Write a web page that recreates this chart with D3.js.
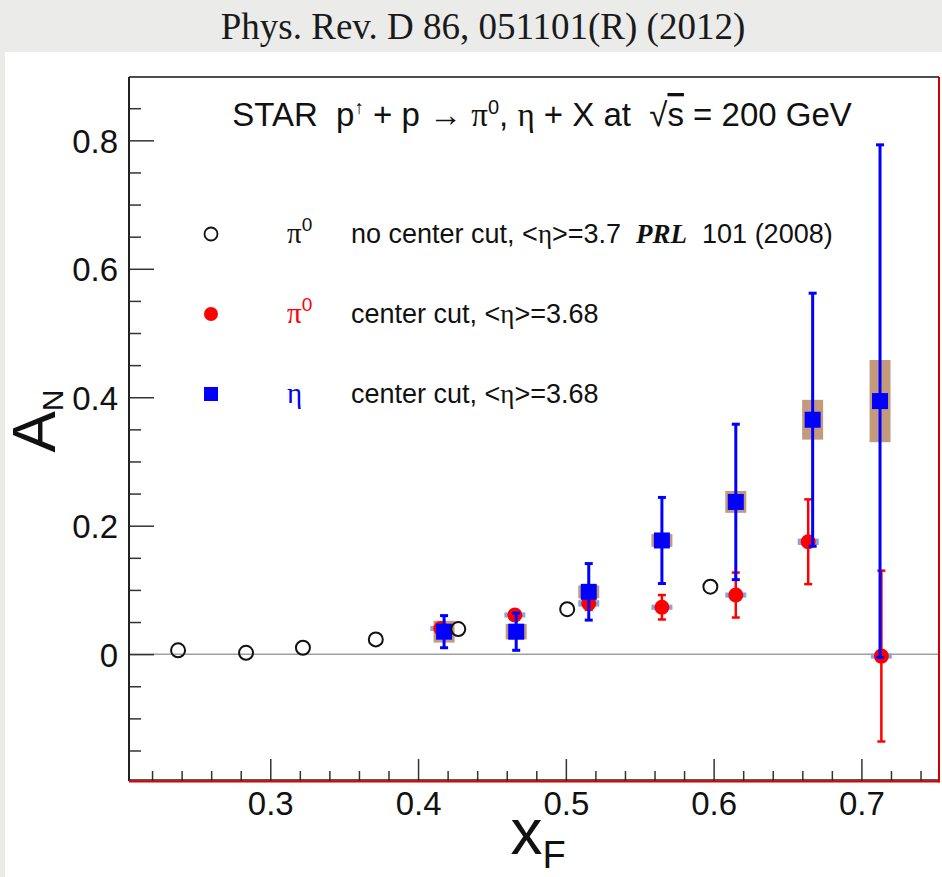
<!DOCTYPE html>
<html lang="en">
<head>
<meta charset="utf-8">
<script src="https://d3js.org/d3.v7.min.js"></script>
<style>
  body { margin: 0; background: #ebebea; }
  svg { display: block; }
  text { white-space: pre; }
</style>
</head>
<body>
<script>
var width = 942, height = 877;

// pi0, no center cut, PRL 101 (2008) -- open circles
var prlX = [0.2376, 0.2836, 0.3221, 0.3714, 0.4272, 0.5009, 0.5978];
var prlA = [0.006, 0.002, 0.010, 0.023, 0.039, 0.070, 0.105];

// pi0, center cut -- red circles
var pi0X = [0.4154, 0.4655, 0.5155, 0.565, 0.615, 0.664, 0.7135];
var pi0A = [0.040, 0.061, 0.079, 0.073, 0.092, 0.175, -0.003];
var pi0Err = [0.008, 0.006, 0.010, 0.019, 0.035, 0.066, 0.133];
var pi0Sys = [0.004, 0.004, 0.005, 0.004, 0.004, 0.005, 0.004];

// eta, center cut -- blue squares
var etaX = [0.4176, 0.4664, 0.5155, 0.565, 0.615, 0.667, 0.7126];
var etaA = [0.035, 0.035, 0.097, 0.177, 0.237, 0.365, 0.394];
var etaErr = [0.025, 0.029, 0.044, 0.067, 0.121, 0.197, 0.399];
var etaSys = [0.017, 0.012, 0.010, 0.010, 0.017, 0.031, 0.064];

var xTicks = [0.3, 0.4, 0.5, 0.6, 0.7];
var yTicks = [0, 0.2, 0.4, 0.6, 0.8];

var pLeft = 129, pRight = 939, pTop = 77, pBottom = 781;
var sans = 'Liberation Sans, Arial, sans-serif', serif = 'Liberation Serif, serif';

var svg = d3.select('body').append('svg').attr('width', width).attr('height', height);

// page: grey paper + white panel
svg.append('rect').attr('width', width).attr('height', height).attr('fill', '#ebebea');
svg.append('rect').attr('x', 5).attr('y', 52).attr('width', width - 5).attr('height', height - 52).attr('fill', '#fff');
svg.append('text').attr('x', 483).attr('y', 39).attr('text-anchor', 'middle')
  .attr('font-family', serif).attr('font-size', 37).attr('fill', '#1a1a1a')
  .text('Phys. Rev. D 86, 051101(R) (2012)');

var x = d3.scaleLinear().domain([0.2044, 0.7525]).range([pLeft, pRight]);
var y = d3.scaleLinear().domain([-0.1975, 0.8986]).range([pBottom, pTop]);

// zero line
svg.append('line').attr('x1', pLeft).attr('x2', pRight).attr('y1', y(0)).attr('y2', y(0))
  .attr('stroke', '#a0a0a0').attr('stroke-width', 1.5);

// axes
var yAxis = svg.append('g').attr('transform', 'translate(' + pLeft + ',0)');
yAxis.call(d3.axisRight(y).tickValues(d3.range(-0.15, 0.9, 0.05)).tickSize(12).tickFormat(''));
yAxis.selectAll('.tick').filter(d => yTicks.some(t => Math.abs(t - d) < 1e-6)).select('line').attr('x2', 25);
yAxis.select('.domain').remove();
yAxis.selectAll('line').attr('stroke', '#333').attr('stroke-width', 1.5);

var yLab = svg.append('g').attr('transform', 'translate(' + (pLeft - 8) + ',0)')
  .call(d3.axisLeft(y).tickValues(yTicks).tickSize(0).tickFormat(d => d === 0 ? '0' : d3.format('.1f')(d)));
yLab.select('.domain').remove();
yLab.selectAll('text').attr('font-family', sans).attr('font-size', 33).attr('fill', '#111').attr('dy', '0.36em');

var xAxis = svg.append('g').attr('transform', 'translate(0,' + pBottom + ')');
xAxis.call(d3.axisTop(x).tickValues(d3.range(0.22, 0.751, 0.02)).tickSize(10).tickFormat(''));
xAxis.selectAll('.tick').filter(d => xTicks.some(t => Math.abs(t - d) < 1e-6)).select('line').attr('y2', -22);
xAxis.select('.domain').remove();
xAxis.selectAll('line').attr('stroke', '#333').attr('stroke-width', 1.5);

var xLab = svg.append('g').attr('transform', 'translate(0,' + (pBottom + 8) + ')')
  .call(d3.axisBottom(x).tickValues(xTicks).tickSize(0).tickFormat(d3.format('.1f')));
xLab.select('.domain').remove();
xLab.selectAll('text').attr('font-family', sans).attr('font-size', 33).attr('fill', '#111').attr('dy', '0.7em');

// frame
svg.append('line').attr('x1', pLeft).attr('x2', pRight).attr('y1', pTop).attr('y2', pTop).attr('stroke', '#111').attr('stroke-width', 1.5);
svg.append('line').attr('x1', pLeft).attr('x2', pLeft).attr('y1', pTop).attr('y2', pBottom).attr('stroke', '#222').attr('stroke-width', 2);
svg.append('line').attr('x1', pLeft).attr('x2', pRight).attr('y1', pBottom - 1).attr('y2', pBottom - 1).attr('stroke', '#222').attr('stroke-width', 1.5);
svg.append('line').attr('x1', pLeft).attr('x2', pRight).attr('y1', pBottom + 0.5).attr('y2', pBottom + 0.5).attr('stroke', '#e00000').attr('stroke-width', 2);
svg.append('line').attr('x1', pRight).attr('x2', pRight).attr('y1', pTop).attr('y2', pBottom + 1.5).attr('stroke', '#d00000').attr('stroke-width', 2);

// axis titles
svg.append('text').attr('transform', 'translate(55,421) rotate(-90)').attr('text-anchor', 'middle')
  .attr('font-family', sans).attr('font-size', 62).attr('fill', '#111')
  .call(t => { t.append('tspan').text('A'); t.append('tspan').attr('dy', 8).attr('font-size', 30).text('N'); });
svg.append('text').attr('x', 538).attr('y', 854).attr('text-anchor', 'middle')
  .attr('font-family', sans).attr('font-size', 64).attr('fill', '#111')
  .call(t => { t.append('tspan').text('x'); t.append('tspan').attr('dy', 14).attr('font-size', 38).text('F'); });

// chart title
var title = svg.append('text').attr('x', 542).attr('y', 126).attr('text-anchor', 'middle')
  .attr('font-family', sans).attr('font-size', 33).attr('fill', '#111');
title.append('tspan').text('STAR  p');
title.append('tspan').attr('dy', -12).attr('font-size', 19).text('\u2191');
title.append('tspan').attr('dy', 12).text(' + p \u2192 ');
title.append('tspan').attr('font-family', serif).text('\u03c0');
title.append('tspan').attr('dy', -12).attr('font-size', 20).text('0');
title.append('tspan').attr('dy', 12).text(', ');
title.append('tspan').attr('font-family', serif).text('\u03b7');
title.append('tspan').text(' + X at  \u221a');
title.append('tspan').style('text-decoration', 'overline').text('s');
title.append('tspan').text(' = 200 GeV');

// systematic boxes
var boxW = 21;
svg.append('g').selectAll('rect').data(d3.range(pi0X.length)).join('rect')
  .attr('x', i => x(pi0X[i]) - boxW / 2).attr('width', boxW)
  .attr('y', i => y(pi0A[i] + pi0Sys[i])).attr('height', i => y(pi0A[i] - pi0Sys[i]) - y(pi0A[i] + pi0Sys[i]))
  .attr('fill', '#8aa6d8');
svg.append('g').selectAll('rect').data(d3.range(etaX.length)).join('rect')
  .attr('x', i => x(etaX[i]) - boxW / 2).attr('width', boxW)
  .attr('y', i => y(etaA[i] + etaSys[i])).attr('height', i => y(etaA[i] - etaSys[i]) - y(etaA[i] + etaSys[i]))
  .attr('fill', '#c49a7c');

function errBars(xs, as, es, color, lw) {
  var g = svg.append('g').attr('stroke', color).attr('stroke-width', lw);
  var idx = d3.range(xs.length);
  g.selectAll('.bar').data(idx).join('line').attr('class', 'bar')
    .attr('x1', i => x(xs[i])).attr('x2', i => x(xs[i]))
    .attr('y1', i => y(as[i] + es[i])).attr('y2', i => y(as[i] - es[i]));
  g.selectAll('.capt').data(idx).join('line').attr('class', 'capt')
    .attr('x1', i => x(xs[i]) - 4).attr('x2', i => x(xs[i]) + 4)
    .attr('y1', i => y(as[i] + es[i])).attr('y2', i => y(as[i] + es[i]));
  g.selectAll('.capb').data(idx).join('line').attr('class', 'capb')
    .attr('x1', i => x(xs[i]) - 4).attr('x2', i => x(xs[i]) + 4)
    .attr('y1', i => y(as[i] - es[i])).attr('y2', i => y(as[i] - es[i]));
}

// red pi0 points
errBars(pi0X, pi0A, pi0Err, '#ff0000', 2.5);
svg.append('g').selectAll('circle').data(d3.range(pi0X.length)).join('circle')
  .attr('cx', i => x(pi0X[i])).attr('cy', i => y(pi0A[i])).attr('r', 7.5).attr('fill', '#ff0000');

// blue eta points
errBars(etaX, etaA, etaErr, '#0000ff', 3);
svg.append('g').selectAll('rect').data(d3.range(etaX.length)).join('rect')
  .attr('x', i => x(etaX[i]) - 8).attr('y', i => y(etaA[i]) - 8).attr('width', 16).attr('height', 16)
  .attr('fill', '#0000ff');

// open circles (PRL 2008)
svg.append('g').selectAll('circle').data(d3.range(prlX.length)).join('circle')
  .attr('cx', i => x(prlX[i])).attr('cy', i => y(prlA[i])).attr('r', 7)
  .attr('fill', 'none').attr('stroke', '#111').attr('stroke-width', 2);

// legend
var legY = [234, 314, 394];
svg.append('circle').attr('cx', 211).attr('cy', legY[0]).attr('r', 6.5).attr('fill', 'none').attr('stroke', '#111').attr('stroke-width', 1.8);
svg.append('circle').attr('cx', 211).attr('cy', legY[1]).attr('r', 7).attr('fill', '#ff0000');
svg.append('rect').attr('x', 204).attr('y', legY[2] - 7).attr('width', 14).attr('height', 14).attr('fill', '#0000ff');

function legSym(yy, sym, color, sup) {
  var t = svg.append('text').attr('x', 287).attr('y', yy + 9).attr('font-family', serif).attr('font-size', 29).attr('fill', color);
  t.append('tspan').text(sym);
  if (sup) t.append('tspan').attr('dy', -12).attr('font-family', sans).attr('font-size', 19).text(sup);
}
legSym(legY[0], '\u03c0', '#111', '0');
legSym(legY[1], '\u03c0', '#ff0000', '0');
legSym(legY[2], '\u03b7', '#0000ff', null);

var l1 = svg.append('text').attr('x', 351).attr('y', legY[0] + 9).attr('font-family', sans).attr('font-size', 27).attr('fill', '#111');
l1.append('tspan').text('no center cut, <');
l1.append('tspan').attr('font-family', serif).text('\u03b7');
l1.append('tspan').text('>=3.7  ');
l1.append('tspan').attr('font-family', serif).attr('font-weight', 'bold').attr('font-style', 'italic').text('PRL');
l1.append('tspan').text('  101 (2008)');

[1, 2].forEach(function(k) {
  var t = svg.append('text').attr('x', 351).attr('y', legY[k] + 9).attr('font-family', sans).attr('font-size', 27).attr('fill', '#111');
  t.append('tspan').text('center cut, <');
  t.append('tspan').attr('font-family', serif).text('\u03b7');
  t.append('tspan').text('>=3.68');
});
</script>
</body>
</html>
